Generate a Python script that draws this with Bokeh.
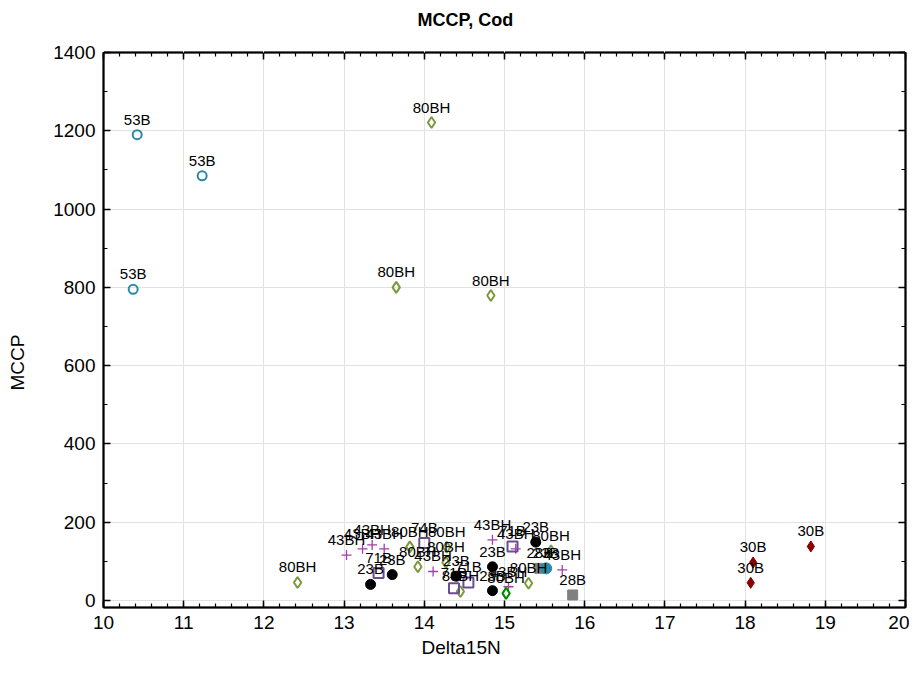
from bokeh.plotting import figure
from bokeh.models import (ColumnDataSource, Range1d, LinearAxis, SingleIntervalTicker,
                          CustomJSTickFormatter, Title)
from bokeh.embed import file_html
from bokeh.resources import INLINE
from bokeh.core.properties import value

# ---- data ----
x_53B = [10.42, 11.23, 10.37]
y_53B = [1190, 1085, 795]

x_80BH = [14.09, 13.65, 14.83, 12.42, 13.92, 14.27, 14.45, 15.30, 15.58, 13.82, 14.28]
y_80BH = [1221, 800, 779, 46, 86, 97, 23, 44, 127, 137, 136]

x_43BH = [13.03, 13.23, 13.35, 13.50, 14.11, 14.85, 15.05, 15.72, 15.14]
y_43BH = [116, 132, 142, 132, 74, 155, 35, 78, 132]

x_sq = [13.43, 14.00, 14.37, 14.55, 15.10]
y_sq = [70, 147, 31, 46, 138]
lab_sq = ["71B", "74B", "71B", "71B", "71B"]

x_23B = [13.33, 13.60, 14.40, 14.85, 14.85, 15.39]
y_23B = [41, 66, 62, 86, 25, 149]

x_teal = [15.52]
y_teal = [82]
lab_teal = ["23B"]

x_28B = [15.44, 15.85]
y_28B = [82, 14]

x_green = [15.02]
y_green = [18]
lab_green = ["80BH"]

x_30B = [18.82, 18.10, 18.07]
y_30B = [138, 97, 45]

x_lim = (10, 20)
y_lim = (-18, 1400)

title_text = "MCCP, Cod"
x_label_text = "Delta15N"
y_label_text = "MCCP"

FONT = "Liberation Sans"

groups = [
    dict(x=x_53B, y=y_53B, lab=["53B"] * len(x_53B), marker="circle", size=9,
         line="#2b8aa3", fill=None, lw=2),
    dict(x=x_80BH, y=y_80BH, lab=["80BH"] * len(x_80BH), marker="diamond", size=11,
         line="#7a9a3a", fill=None, lw=2),
    dict(x=x_43BH, y=y_43BH, lab=["43BH"] * len(x_43BH), marker="cross", size=10,
         line="#a040a8", fill=None, lw=1.3),
    dict(x=x_sq, y=y_sq, lab=lab_sq, marker="square", size=10,
         line="#6a4c93", fill=None, lw=2),
    dict(x=x_23B, y=y_23B, lab=["23B"] * len(x_23B), marker="circle", size=10,
         line="black", fill="black", lw=1),
    dict(x=x_28B, y=y_28B, lab=["28B"] * len(x_28B), marker="square", size=10,
         line="#808080", fill="#808080", lw=1),
    dict(x=x_teal, y=y_teal, lab=lab_teal, marker="circle", size=11,
         line="#2b8aa3", fill="#2b8aa3", lw=1),
    dict(x=x_green, y=y_green, lab=lab_green, marker="diamond", size=11,
         line="#008a00", fill=None, lw=2),
    dict(x=x_30B, y=y_30B, lab=["30B"] * len(x_30B), marker="diamond", size=11,
         line="#8b0000", fill="#8b0000", lw=1),
]

p = figure(width=909, height=670, output_backend="svg", toolbar_location=None,
           x_range=Range1d(*x_lim), y_range=Range1d(*y_lim),
           min_border_left=103, min_border_right=4, min_border_top=52, min_border_bottom=63)

p.title.text = ""
p.outline_line_color = "black"
p.outline_line_width = 1.5
p.background_fill_color = "white"
p.border_fill_color = "white"

xt = SingleIntervalTicker(interval=1, num_minor_ticks=5)
yt = SingleIntervalTicker(interval=200, num_minor_ticks=2)

bottom = p.below[0]
left = p.left[0]
bottom.ticker = xt
left.ticker = yt
p.xgrid.ticker = xt
p.ygrid.ticker = yt
p.grid.grid_line_color = "#e2e2e2"
p.grid.grid_line_width = 1

blank = CustomJSTickFormatter(code="return '';")
top = LinearAxis(ticker=xt, formatter=blank)
right = LinearAxis(ticker=yt, formatter=blank)
p.add_layout(top, "above")
p.add_layout(right, "right")

for ax in [bottom, left, top, right]:
    ax.axis_line_width = 2
    ax.axis_line_color = "black"
    ax.major_tick_in = 7
    ax.major_tick_out = 0
    ax.minor_tick_in = 4
    ax.minor_tick_out = 0
    ax.major_tick_line_color = "black"
    ax.minor_tick_line_color = "black"
    ax.major_tick_line_width = 1.5
    ax.minor_tick_line_width = 1.2
    ax.major_label_text_font = FONT
    ax.major_label_text_font_size = "19px"
    ax.major_label_text_color = "black"

for ax in [top, right]:
    ax.major_label_standoff = 0

bottom.major_label_standoff = 8
left.major_label_standoff = 8


def spacer(ticker, gap):
    """Axis drawn in white (on the white border) that only reserves empty space
    between panels: its outward ticks give it a size of `gap` pixels."""
    ax = LinearAxis(ticker=ticker, formatter=blank)
    ax.axis_line_color = None
    ax.major_tick_line_color = "white"
    ax.major_tick_line_width = 1
    ax.minor_tick_line_color = None
    ax.major_tick_in = 0
    ax.major_tick_out = gap
    ax.minor_tick_in = 0
    ax.minor_tick_out = 0
    ax.major_label_standoff = 0
    return ax


# chart title (above), shifted to sit where the reference has it
p.add_layout(spacer(xt, 20), "above")
p.add_layout(Title(text=title_text, align="left", offset=314, standoff=6,
                   text_font=FONT, text_font_size="18px", text_font_style="bold",
                   text_color="black"), "above")

# x-axis title
p.add_layout(Title(text=x_label_text, align="left", offset=318, standoff=6,
                   text_font=FONT, text_font_size="19px", text_font_style="normal",
                   text_color="black"), "below")

# y-axis title
p.add_layout(spacer(yt, 20), "left")
p.add_layout(Title(text=y_label_text, align="left", offset=217, standoff=6,
                   text_font=FONT, text_font_size="19px", text_font_style="normal",
                   text_color="black"), "left")

srcs = []
for g in groups:
    src = ColumnDataSource(dict(x=g["x"], y=g["y"], lab=g["lab"]))
    srcs.append(src)
    p.scatter("x", "y", source=src, marker=g["marker"], size=g["size"],
              line_color=g["line"], fill_color=g["fill"], line_width=g["lw"])

for src in srcs:
    p.text("x", "y", text="lab", source=src, text_align="center",
           text_baseline="bottom", y_offset=-7, text_font=value(FONT),
           text_font_size="15px", text_color="black")

open("out.html", "w").write(file_html(p, INLINE))
